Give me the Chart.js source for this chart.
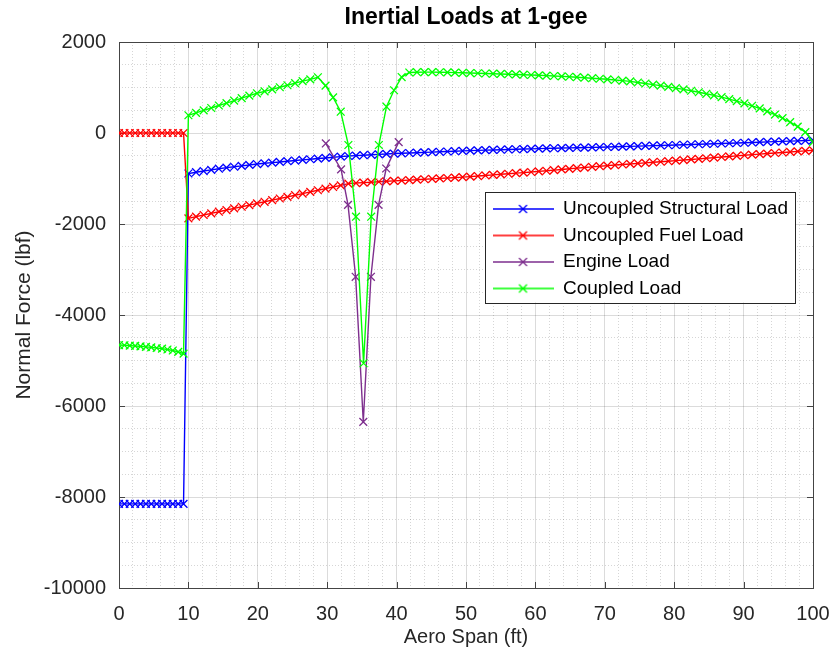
<!DOCTYPE html>
<html>
<head>
<meta charset="utf-8">
<title>Inertial Loads at 1-gee</title>
<script src="https://cdn.jsdelivr.net/npm/chart.js@4.4.1/dist/chart.umd.min.js"></script>
<style>
  html, body { margin: 0; padding: 0; background: #fff; }
  #wrap { width: 835px; height: 656px; }
</style>
</head>
<body>
<div id="wrap"><canvas id="chart-inertial-loads" width="835" height="656"></canvas></div>
<script>
// span stations (ft): root section inboard of the break, then outboard section
const span_root = [0, 0.78, 1.55, 2.33, 3.10, 3.88, 4.65, 5.43, 6.20, 6.98, 7.75, 8.53, 9.30];
const span_outboard = [
  10.00, 11.10, 12.20, 13.29, 14.39, 15.49, 16.59, 17.68, 18.78, 19.88,
  20.98, 22.07, 23.17, 24.27, 25.37, 26.46, 27.56, 28.66, 29.76, 30.85,
  31.95, 33.05, 34.15, 35.24, 36.34, 37.44, 38.54, 39.63, 40.73, 41.83,
  42.93, 44.02, 45.12, 46.22, 47.32, 48.41, 49.51, 50.61, 51.71, 52.80,
  53.90, 55.00, 56.10, 57.20, 58.29, 59.39, 60.49, 61.59, 62.68, 63.78,
  64.88, 65.98, 67.07, 68.17, 69.27, 70.37, 71.46, 72.56, 73.66, 74.76,
  75.85, 76.95, 78.05, 79.15, 80.24, 81.34, 82.44, 83.54, 84.63, 85.73,
  86.83, 87.93, 89.02, 90.12, 91.22, 92.32, 93.41, 94.51, 95.61, 96.71,
  97.80, 98.90, 100.00
];

// normal force (lbf)
const structural_root = [-8150, -8150, -8150, -8150, -8150, -8150, -8150, -8150, -8150, -8150, -8150, -8150, -8150];
const structural_outboard = [
  -890, -862, -836, -811, -785, -762, -742, -722, -702, -682,
  -666, -651, -636, -620, -605, -591, -577, -562, -548, -534,
  -520, -506, -497, -488, -479, -469, -460, -452, -446, -439,
  -433, -426, -420, -413, -407, -400, -393, -387, -382, -377,
  -372, -367, -362, -357, -353, -348, -343, -339, -335, -331,
  -327, -323, -320, -316, -312, -308, -303, -298, -293, -288,
  -283, -278, -274, -269, -264, -258, -253, -247, -242, -236,
  -231, -225, -220, -214, -208, -202, -196, -190, -184, -178,
  -172, -166, -160
];

const fuel_root = [0, 0, 0, 0, 0, 0, 0, 0, 0, 0, 0, 0, 0];
const fuel_outboard = [
  -1875, -1838, -1802, -1766, -1730, -1693, -1657, -1621, -1585, -1548,
  -1512, -1476, -1440, -1403, -1367, -1331, -1295, -1258, -1222, -1186,
  -1150, -1112, -1100, -1090, -1081, -1072, -1062, -1053, -1045, -1036,
  -1026, -1017, -1008, -998, -989, -980, -970, -958, -946, -933,
  -920, -908, -896, -883, -870, -857, -844, -830, -816, -801,
  -787, -773, -759, -745, -730, -716, -704, -692, -680, -668,
  -656, -644, -632, -620, -607, -594, -581, -568, -555, -542,
  -528, -515, -502, -489, -476, -464, -452, -440, -428, -416,
  -404, -392, -380
];

const engine_span = [29.8, 32.0, 33.0, 34.1, 35.2, 36.3, 37.4, 38.5, 40.3];
const engine_load = [-230, -800, -1580, -3160, -6350, -3160, -1580, -780, -200];

const coupled_root = [-4660, -4665, -4672, -4680, -4690, -4700, -4712, -4725, -4740, -4758, -4780, -4810, -4850];
const coupled_outboard = [
  390, 443, 497, 550, 604, 658, 712, 766, 820, 873,
  915, 960, 1005, 1050, 1095, 1140, 1180, 1225, 1040, 784,
  468, -264, -1840, -5060, -1840, -264, 578, 940, 1230, 1330,
  1336, 1338, 1337, 1335, 1332, 1328, 1323, 1318, 1313, 1308,
  1303, 1298, 1292, 1287, 1281, 1275, 1268, 1261, 1253, 1245,
  1236, 1226, 1215, 1204, 1192, 1180, 1165, 1150, 1134, 1110,
  1088, 1064, 1040, 1014, 987, 958, 928, 896, 862, 826,
  787, 745, 700, 651, 598, 540, 476, 405, 327, 240,
  140, 20, -200
];

const series_names = ['Uncoupled Structural Load', 'Uncoupled Fuel Load', 'Engine Load', 'Coupled Load'];
const series_colors = ['#0000ff', '#ff0000', '#7e2f8e', '#00ff00'];

const font_family = "'Liberation Sans', Arial, Helvetica, sans-serif";
const text_color = '#262626';

function toPoints(xs, ys) {
  return xs.map((x, i) => ({ x: x, y: ys[i] }));
}

// small line-with-cross swatch used as the legend marker
function makeLegendIcon(color) {
  const c = document.createElement('canvas');
  c.width = 61;
  c.height = 12;
  const g = c.getContext('2d');
  g.strokeStyle = color;
  g.lineWidth = 1.3;
  g.beginPath();
  g.moveTo(0, 6);
  g.lineTo(61, 6);
  g.moveTo(26.5, 2);
  g.lineTo(34.5, 10);
  g.moveTo(34.5, 2);
  g.lineTo(26.5, 10);
  g.stroke();
  return c;
}
const legend_icons = series_colors.map(makeLegendIcon);

function lineDataset(idx, points) {
  return {
    label: series_names[idx],
    data: points,
    borderColor: series_colors[idx],
    backgroundColor: series_colors[idx],
    borderWidth: 1.4,
    pointStyle: 'crossRot',
    pointRadius: 5.5,
    pointBorderWidth: 1.3,
    pointHoverRadius: 5.5,
    tension: 0,
    seriesIndex: idx
  };
}

// axes box, inward ticks, title over the axes and the boxed legend
const axesFrame = {
  id: 'axesFrame',
  afterLayout(chart) {
    const area = chart.chartArea;
    if (chart.titleBlock) {
      chart.titleBlock.left = area.left;
      chart.titleBlock.right = area.right;
    }
    const lg = chart.legend;
    const w = lg.width;
    lg.left = area.left + 366;
    lg.right = lg.left + w;
    lg.top = area.top + 150;
    lg.bottom = area.bottom;
  },
  beforeDatasetsDraw(chart) {
    const { ctx, chartArea: a, scales } = chart;
    ctx.save();
    ctx.strokeStyle = '#444';
    ctx.lineWidth = 1;
    ctx.strokeRect(a.left + 0.5, a.top + 0.5, a.right - a.left, a.bottom - a.top);

    ctx.beginPath();
    scales.x.ticks.filter(t => t.value % 10 === 0).forEach(t => {
      const px = Math.round(scales.x.getPixelForValue(t.value)) + 0.5;
      ctx.moveTo(px, a.bottom);
      ctx.lineTo(px, a.bottom - 6);
      ctx.moveTo(px, a.top);
      ctx.lineTo(px, a.top + 6);
    });
    scales.y.ticks.filter(t => t.value % 2000 === 0).forEach(t => {
      const py = Math.round(scales.y.getPixelForValue(t.value)) + 0.5;
      ctx.moveTo(a.left, py);
      ctx.lineTo(a.left + 6, py);
      ctx.moveTo(a.right, py);
      ctx.lineTo(a.right - 6, py);
    });
    ctx.stroke();

    // legend box
    const lg = chart.legend;
    const pad = lg.options.labels.padding;
    const h = pad + lg.columnSizes[0].height - 3;
    const w = lg.width - 3;
    ctx.fillStyle = '#fff';
    ctx.fillRect(lg.left, lg.top, w, h);
    ctx.strokeStyle = '#262626';
    ctx.strokeRect(Math.round(lg.left) + 0.5, Math.round(lg.top) + 0.5, Math.round(w), Math.round(h));
    ctx.restore();
    lg.draw();
  }
};

Chart.defaults.font.family = font_family;
Chart.defaults.color = text_color;

const ctx = document.getElementById('chart-inertial-loads');
const chart = new Chart(ctx, {
  type: 'line',
  plugins: [axesFrame],
  data: {
    datasets: [
      // drawn top-most first
      lineDataset(3, toPoints(span_root.concat(span_outboard), coupled_root.concat(coupled_outboard))),
      lineDataset(2, toPoints(engine_span, engine_load)),
      lineDataset(1, toPoints(span_root.concat(span_outboard), fuel_root.concat(fuel_outboard))),
      lineDataset(0, toPoints(span_root.concat(span_outboard), structural_root.concat(structural_outboard)))
    ]
  },
  options: {
    responsive: false,
    animation: false,
    events: [],
    layout: { autoPadding: false, padding: { top: 0, right: 22, bottom: 0, left: 0 } },
    scales: {
      x: {
        type: 'linear',
        min: 0,
        max: 100,
        afterFit: scale => {
          scale.height = 68;
          scale.paddingLeft = 0;
          scale.paddingRight = 0;
        },
        ticks: {
          stepSize: 2,
          autoSkip: false,
          maxRotation: 0,
          padding: 14,
          color: text_color,
          font: { size: 20 },
          callback: v => (v % 10 === 0 ? String(v) : '')
        },
        grid: {
          drawTicks: false,
          lineWidth: 1,
          color: c => (c.tick && c.tick.value % 10 === 0 ? 'rgba(0,0,0,0.14)' : 'rgba(0,0,0,0.16)')
        },
        border: {
          display: false,
          dash: c => (c.tick && c.tick.value % 10 === 0 ? [] : [1, 2])
        },
        title: {
          display: true,
          text: 'Aero Span (ft)',
          color: text_color,
          font: { size: 20 },
          padding: { top: 7, bottom: 7 }
        }
      },
      y: {
        min: -10000,
        max: 2000,
        afterFit: scale => { scale.width = 119; },
        ticks: {
          stepSize: 500,
          autoSkip: false,
          padding: 13,
          color: text_color,
          font: { size: 20 },
          callback: v => (v % 2000 === 0 ? String(v) : '')
        },
        grid: {
          drawTicks: false,
          lineWidth: 1,
          color: c => (c.tick && c.tick.value % 2000 === 0 ? 'rgba(0,0,0,0.14)' : 'rgba(0,0,0,0.16)')
        },
        border: {
          display: false,
          dash: c => (c.tick && c.tick.value % 2000 === 0 ? [] : [1, 2])
        },
        title: {
          display: true,
          text: 'Normal Force (lbf)',
          color: text_color,
          font: { size: 21 },
          padding: { top: 12, bottom: 12 }
        }
      }
    },
    plugins: {
      title: {
        display: true,
        text: 'Inertial Loads at 1-gee',
        color: '#000',
        font: { size: 23, weight: 'bold' },
        padding: { top: 4, bottom: 10.4 }
      },
      legend: {
        position: 'chartArea',
        align: 'start',
        reverse: true,
        labels: {
          usePointStyle: true,
          pointStyleWidth: 61,
          padding: 7.5,
          color: '#000',
          font: { size: 19 },
          generateLabels: function (chart) {
            const items = Chart.defaults.plugins.legend.labels.generateLabels(chart);
            items.forEach(item => {
              const ds = chart.data.datasets[item.datasetIndex];
              item.pointStyle = legend_icons[ds.seriesIndex];
            });
            return items;
          }
        }
      },
      tooltip: { enabled: false }
    }
  }
});
</script>
</body>
</html>
